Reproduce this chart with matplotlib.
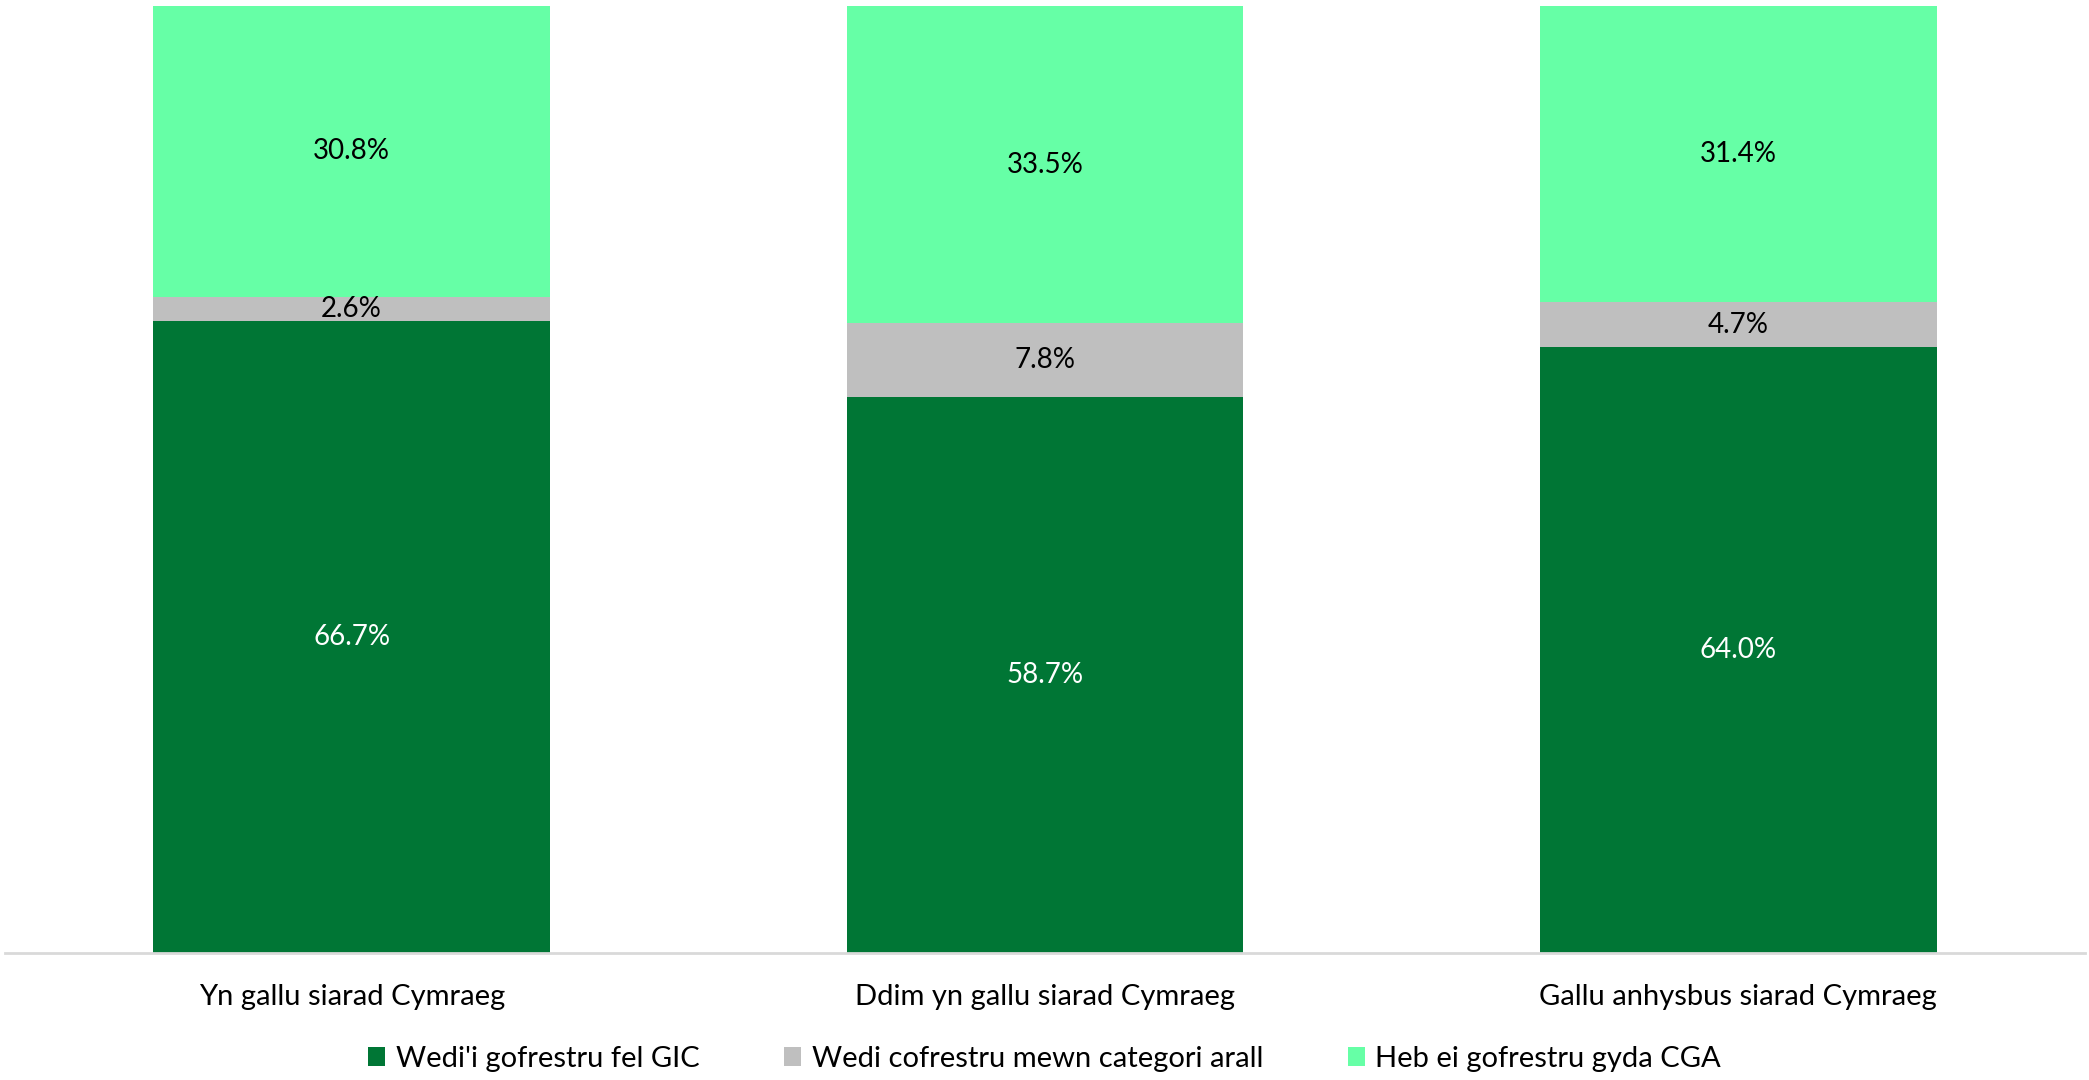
import matplotlib.pyplot as plt
import numpy as np

plt.rcParams['font.family'] = ['Lato', 'DejaVu Sans']

categories = ['Yn gallu siarad Cymraeg', 'Ddim yn gallu siarad Cymraeg', 'Gallu anhysbus siarad Cymraeg']
series_names = ["Wedi'i gofrestru fel GIC", 'Wedi cofrestru mewn categori arall', 'Heb ei gofrestru gyda CGA']
gic = [66.7, 58.7, 64.0]
other = [2.6, 7.8, 4.7]
not_reg = [30.8, 33.5, 31.4]

colors = ['#007635', '#bfbfbf', '#66ffa6']
label_colors = ['white', 'black', 'black']

fig = plt.figure(figsize=(20.89, 10.8), dpi=100)
ax = fig.add_axes([5/2089, 127/1080, 2080/2089, 947/1080])

x = np.arange(len(categories))
w = 0.572
bottom = np.zeros(len(categories))
for vals, name, c, lc in zip([gic, other, not_reg], series_names, colors, label_colors):
    vals = np.array(vals) / 100
    ax.bar(x, vals, w, bottom=bottom, color=c, label=name)
    for xi, v, b in zip(x, vals, bottom):
        ax.text(xi, b + v / 2, f'{v*100:.1f}%', ha='center', va='center',
                fontsize=20, color=lc)
    bottom += vals

ax.set_xlim(-0.5, 2.5)
ax.set_ylim(0, 1.0)
ax.set_yticks([])
ax.set_xticks(x)
ax.set_xticklabels(categories, fontsize=21)
ax.tick_params(axis='x', length=0, pad=22)
for s in ['top', 'left', 'right']:
    ax.spines[s].set_visible(False)
ax.spines['bottom'].set_color('#d9d9d9')
ax.spines['bottom'].set_linewidth(2)

fig.legend(loc='center', bbox_to_anchor=(0.5, 21/1080), ncol=3, frameon=False,
           fontsize=21, handlelength=0.6, handleheight=0.6, columnspacing=2.9,
           handletextpad=0.35)

fig.savefig('out.png', dpi=100)
